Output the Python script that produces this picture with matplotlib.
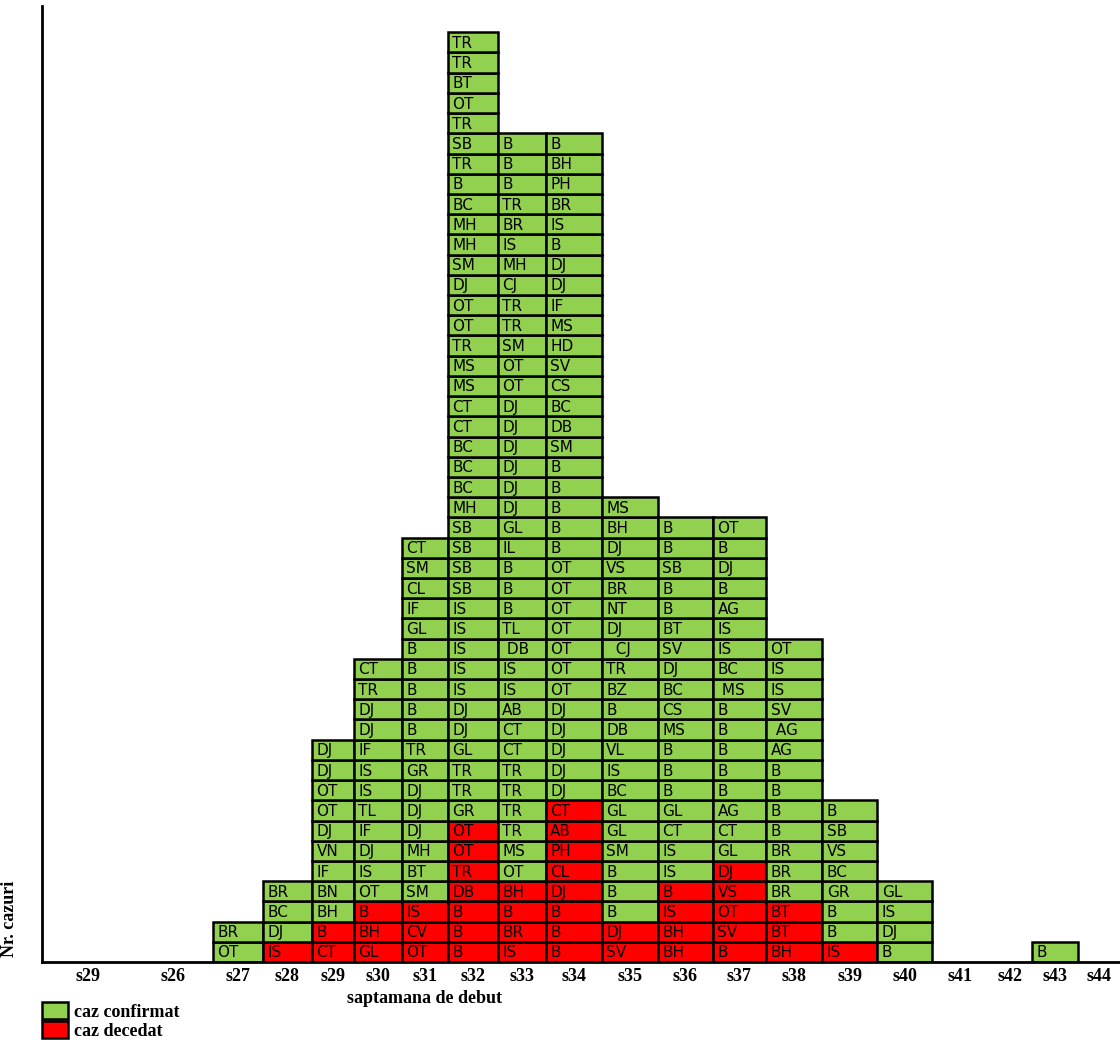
import numpy as np
import matplotlib
matplotlib.use("Agg")
import matplotlib.pyplot as plt
from matplotlib.patches import Patch

# ---- data -------------------------------------------------------------
weeks = ["s29", "s26", "s27", "s28", "s29", "s30", "s31", "s32", "s33", "s34",
         "s35", "s36", "s37", "s38", "s39", "s40", "s41", "s42", "s43", "s44"]

# county codes per week, bottom -> top
cases = {
    "s27": ["OT", "BR"],
    "s28": ["IS", "DJ", "BC", "BR"],
    "s29": ["CT", "B", "BH", "BN", "IF", "VN", "DJ", "OT", "OT", "DJ", "DJ"],
    "s30": ["GL", "BH", "B", "OT", "IS", "DJ", "IF", "TL", "IS", "IS", "IF",
            "DJ", "DJ", "TR", "CT"],
    "s31": ["OT", "CV", "IS", "SM", "BT", "MH", "DJ", "DJ", "DJ", "GR", "TR",
            "B", "B", "B", "B", "B", "GL", "IF", "CL", "SM", "CT"],
    "s32": ["B", "B", "B", "DB", "TR", "OT", "OT", "GR", "TR", "TR", "GL",
            "DJ", "DJ", "IS", "IS", "IS", "IS", "IS", "SB", "SB", "SB", "SB",
            "MH", "BC", "BC", "BC", "CT", "CT", "MS", "MS", "TR", "OT", "OT",
            "DJ", "SM", "MH", "MH", "BC", "B", "TR", "SB", "TR", "OT", "BT",
            "TR", "TR"],
    "s33": ["IS", "BR", "B", "BH", "OT", "MS", "TR", "TR", "TR", "TR", "CT",
            "CT", "AB", "IS", "IS", " DB", "TL", "B", "B", "B", "IL", "GL",
            "DJ", "DJ", "DJ", "DJ", "DJ", "DJ", "OT", "OT", "SM", "TR", "TR",
            "CJ", "MH", "IS", "BR", "TR", "B", "B", "B"],
    "s34": ["B", "B", "B", "DJ", "CL", "PH", "AB", "CT", "DJ", "DJ", "DJ",
            "DJ", "DJ", "OT", "OT", "OT", "OT", "OT", "OT", "OT", "B", "B",
            "B", "B", "B", "SM", "DB", "BC", "CS", "SV", "HD", "MS", "IF",
            "DJ", "DJ", "B", "IS", "BR", "PH", "BH", "B"],
    "s35": ["SV", "DJ", "B", "B", "B", "SM", "GL", "GL", "BC", "IS", "VL",
            "DB", "B", "BZ", "TR", "  CJ", "DJ", "NT", "BR", "VS", "DJ", "BH",
            "MS"],
    "s36": ["BH", "BH", "IS", "B", "IS", "IS", "CT", "GL", "B", "B", "B",
            "MS", "CS", "BC", "DJ", "SV", "BT", "B", "B", "SB", "B", "B"],
    "s37": ["B", "SV", "OT", "VS", "DJ", "GL", "CT", "AG", "B", "B", "B", "B",
            "B", " MS", "BC", "IS", "IS", "AG", "B", "DJ", "B", "OT"],
    "s38": ["BH", "BT", "BT", "BR", "BR", "BR", "B", "B", "B", "B", "AG",
            " AG", "SV", "IS", "IS", "OT"],
    "s39": ["IS", "B", "B", "GR", "BC", "VS", "SB", "B"],
    "s40": ["B", "DJ", "IS", "GL"],
    "s43": ["B"],
}
# number of deceased cases (lowest cells of each column)
deceased = {"s28": 1, "s29": 2, "s30": 3, "s31": 3, "s32": 7, "s33": 4,
            "s34": 8, "s35": 2, "s36": 4, "s37": 5, "s38": 3, "s39": 1}

legend_labels = ["caz confirmat", "caz decedat"]

# ---- layout (category slot widths, as in the original table) ----------
slot_width = np.array([1.80, 1.55, 0.98, 0.96, 0.82, 0.94, 0.90, 0.98, 0.94,
                       1.10, 1.10, 1.08, 1.04, 1.10, 1.08, 1.08, 1.08, 0.88,
                       0.90, 0.82])
slot_left = np.concatenate([[0], np.cumsum(slot_width)[:-1]])
slot_center = slot_left + slot_width / 2

# ---- style ------------------------------------------------------------
GREEN = "#92D050"
RED = "#FF0000"
serif = ["Liberation Serif", "DejaVu Serif"]

fig = plt.figure(figsize=(11.2, 10.42), dpi=100)
ax = fig.add_axes([42 / 1120, 80 / 1042, 1 - 42 / 1120, (962 - 6) / 1042])

for k, wk in enumerate(weeks):
    if k < 2 or wk not in cases:
        continue
    labels = cases[wk]
    x = slot_center[k]
    w = slot_width[k]
    nd = deceased.get(wk, 0)
    for i, lab in enumerate(labels):
        col = RED if i < nd else GREEN
        ax.bar(x, 1, bottom=i, width=w, color=col, edgecolor="black",
               linewidth=1.8, zorder=2)
        ax.text(slot_left[k] + 0.09, i + 0.45, lab, ha="left", va="center",
                fontsize=11, family="DejaVu Sans", color="black", zorder=3)

ax.set_xlim(0, slot_width.sum())
ax.set_ylim(0, 47.3)

for s in ("top", "right"):
    ax.spines[s].set_visible(False)
ax.spines["left"].set_linewidth(2)
ax.spines["bottom"].set_linewidth(2)
ax.set_yticks([])
ax.set_xticks(slot_center)
ax.set_xticklabels(weeks, fontsize=13, fontweight="bold", family=serif)
ax.tick_params(axis="x", length=0, pad=4)

ax.set_xlabel("saptamana de debut", fontsize=13, fontweight="bold",
              family=serif)
ax.xaxis.set_label_coords(0.355, -0.029)
ax.set_ylabel("Nr. cazuri", fontsize=13, fontweight="bold", family=serif)
ax.yaxis.set_label_coords(-0.022, 0.045)

handles = [Patch(facecolor=GREEN, edgecolor="black", linewidth=1.8),
           Patch(facecolor=RED, edgecolor="black", linewidth=1.8)]
fig.legend(handles, legend_labels, loc="upper left",
           bbox_to_anchor=(42 / 1120, 1 - 1002 / 1042), frameon=False,
           prop={"family": serif, "weight": "bold", "size": 13},
           handlelength=1.45, handleheight=1.05, handletextpad=0.3,
           labelspacing=0.05, borderpad=0, borderaxespad=0)

fig.savefig("out.png", dpi=100)
